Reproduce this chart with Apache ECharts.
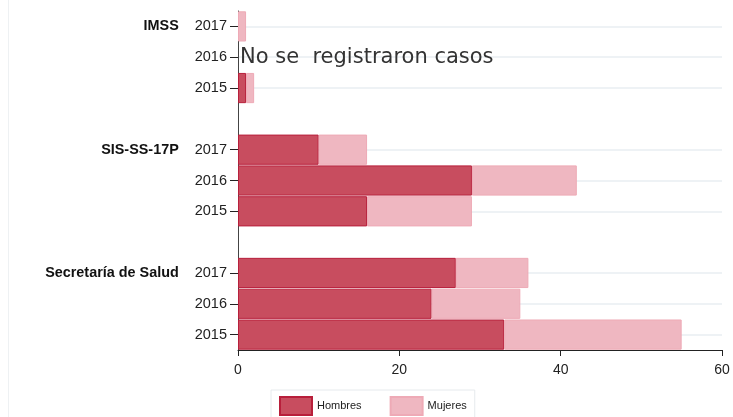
<!DOCTYPE html>
<html>
<head>
<meta charset="utf-8">
<script src="https://cdn.jsdelivr.net/npm/echarts@6/dist/echarts.min.js"></script>
<style>
  html, body { margin: 0; padding: 0; background: #fff; }
  #chart { width: 733px; height: 417px; }
</style>
</head>
<body>
<div id="chart"></div>
<script>
/* datos */
const groups = ['IMSS', 'SIS-SS-17P', 'Secretaría de Salud'];
const years = ['2017', '2016', '2015'];
// filas de arriba a abajo, con hueco entre grupos
const hombres = [null, 0, 1, null, 10, 29, 16, null, 27, 24, 33];
const mujeres = [1, null, 1, null, 6, 13, 13, null, 9, 11, 22];
const sinCasos = 'No se  registraron casos';

/* categorías: grupo|año, hueco vacío entre grupos */
let cats = [];
groups.forEach((g, gi) => {
    years.forEach((y, yi) => cats.push((yi === 0 ? g : '') + '|' + y));
    if (gi < groups.length - 1) cats.push('gap' + gi);
});
const isRow = (i) => cats[i].indexOf('|') >= 0;

let chart = echarts.init(document.getElementById('chart'));

let hData = hombres.map((v, i) => {
    if (i === 1) {
        // IMSS 2016: sin casos
        return {
            value: 0,
            itemStyle: {borderWidth: 0},
            label: {
                show: true, position: 'right', distance: 2,
                formatter: sinCasos,
                fontFamily: 'DejaVu Sans', fontSize: 21, color: '#333'
            }
        };
    }
    return v;
});

let option = {
    animation: false,
    grid: {left: 238, right: 11, top: 11, bottom: 67},
    graphic: [{
        type: 'line',
        shape: {x1: 8.5, y1: 0, x2: 8.5, y2: 417},
        style: {stroke: '#eef1f3', lineWidth: 1}
    }],
    legend: {
        left: 271, top: 390,
        icon: 'rect',
        itemWidth: 32, itemHeight: 18, itemGap: 28,
        padding: [6, 8, 6, 8],
        borderColor: '#e6eaed', borderWidth: 1,
        textStyle: {fontFamily: 'Liberation Sans', fontSize: 11, color: '#222'},
        data: ['Hombres', 'Mujeres']
    },
    xAxis: {
        type: 'value',
        min: 0, max: 60, interval: 20,
        axisLine: {show: true, lineStyle: {color: '#222'}},
        axisTick: {show: true, length: 6, lineStyle: {color: '#222'}},
        axisLabel: {fontFamily: 'Liberation Sans', fontSize: 14, color: '#222', margin: 13},
        splitLine: {show: false}
    },
    yAxis: {
        type: 'category',
        inverse: true,
        data: cats,
        axisLine: {show: true, lineStyle: {color: '#444'}},
        axisTick: {
            show: true, alignWithLabel: true, length: 8,
            interval: (i) => isRow(i),
            lineStyle: {color: '#222'}
        },
        splitLine: {
            show: true, alignWithLabel: true,
            interval: (i) => isRow(i),
            lineStyle: {color: '#e9eef2', width: 1.5}
        },
        axisLabel: {
            interval: 0,
            margin: 11,
            formatter: (v) => {
                if (v.indexOf('|') < 0) return '';
                let p = v.split('|');
                return p[0] ? '{g|' + p[0] + '}{s|}{y|' + p[1] + '}' : '{y|' + p[1] + '}';
            },
            rich: {
                g: {fontFamily: 'Liberation Sans', fontWeight: 'bold', fontSize: 14.4, color: '#111'},
                s: {width: 16},
                y: {fontFamily: 'Liberation Sans', fontSize: 14.5, color: '#222'}
            }
        }
    },
    series: [
        {
            name: 'Hombres',
            type: 'bar',
            stack: 'total',
            barCategoryGap: '2%',
            itemStyle: {color: '#c84d5f', borderColor: '#b81f3b', borderWidth: 1},
            data: hData
        },
        {
            name: 'Mujeres',
            type: 'bar',
            stack: 'total',
            barCategoryGap: '2%',
            itemStyle: {color: '#efb7c1', borderColor: '#eeaab6', borderWidth: 1},
            data: mujeres
        }
    ]
};

chart.setOption(option);
</script>
</body>
</html>
